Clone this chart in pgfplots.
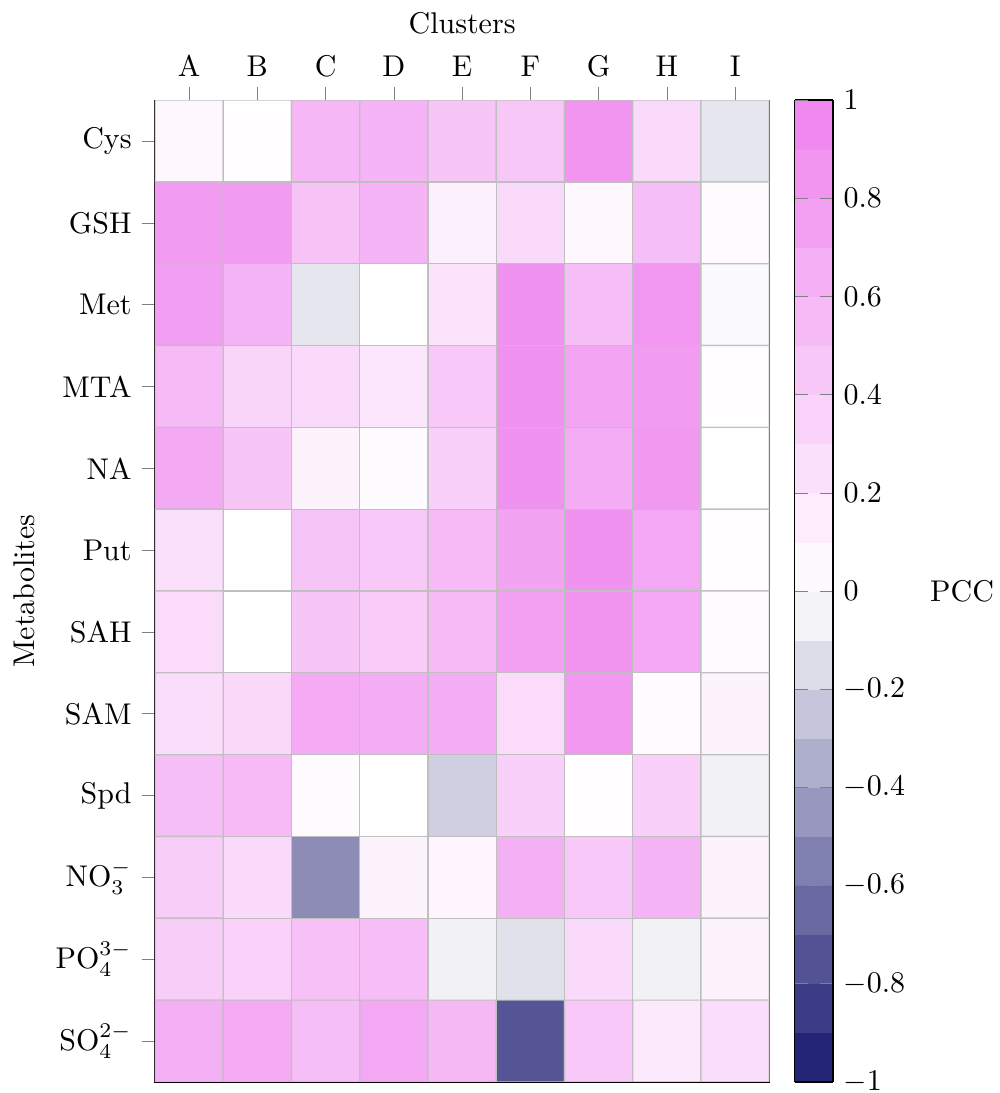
\documentclass[border=0pt]{standalone}
\usepackage{pgfplots}
\pgfplotsset{compat=1.18}
\pgfplotstableread{
x y c
0 0 0.06
1 0 0.02
2 0 0.58
3 0 0.60
4 0 0.46
5 0 0.45
6 0 0.85
7 0 0.30
8 0 -0.11
0 1 0.80
1 1 0.80
2 1 0.48
3 1 0.60
4 1 0.12
5 1 0.30
6 1 0.06
7 1 0.52
8 1 0.04
0 2 0.78
1 2 0.60
2 2 -0.11
3 2 0.01
4 2 0.22
5 2 0.87
6 2 0.53
7 2 0.83
8 2 -0.02
0 3 0.55
1 3 0.34
2 3 0.30
3 3 0.20
4 3 0.43
5 3 0.87
6 3 0.72
7 3 0.80
8 3 0.02
0 4 0.68
1 4 0.46
2 4 0.10
3 4 0.03
4 4 0.38
5 4 0.87
6 4 0.66
7 4 0.82
8 4 0.01
0 5 0.25
1 5 0.01
2 5 0.47
3 5 0.43
4 5 0.55
5 5 0.74
6 5 0.87
7 5 0.70
8 5 0.02
0 6 0.28
1 6 0.01
2 6 0.46
3 6 0.42
4 6 0.55
5 6 0.75
6 6 0.86
7 6 0.70
8 6 0.03
0 7 0.27
1 7 0.31
2 7 0.67
3 7 0.66
4 7 0.66
5 7 0.28
6 7 0.82
7 7 0.04
8 7 0.10
0 8 0.52
1 8 0.55
2 8 0.03
3 8 0.01
4 8 -0.21
5 8 0.38
6 8 0.02
7 8 0.38
8 8 -0.06
0 9 0.40
1 9 0.30
2 9 -0.50
3 9 0.10
4 9 0.08
5 9 0.63
6 9 0.44
7 9 0.60
8 9 0.10
0 10 0.40
1 10 0.37
2 10 0.50
3 10 0.53
4 10 -0.06
5 10 -0.13
6 10 0.30
7 10 -0.06
8 10 0.10
0 11 0.63
1 11 0.67
2 11 0.52
3 11 0.70
4 11 0.57
5 11 -0.74
6 11 0.44
7 11 0.18
8 11 0.27
}\datatable
\begin{document}
\begin{tikzpicture}
\begin{axis}[
  name=main,
  scale only axis, width=205pt, height=327.6pt,
  xmin=-0.5, xmax=8.5, ymin=-0.5, ymax=11.5, y dir=reverse,
  xtick={0,1,2,3,4,5,6,7,8}, xticklabels={A,B,C,D,E,F,G,H,I},
  ytick={0,1,2,3,4,5,6,7,8,9,10,11},
  yticklabels={Cys,GSH,Met,MTA,NA,Put,SAH,SAM,Spd,{$\mathrm{NO_3^-}$},{$\mathrm{PO_4^{3-}}$},{$\mathrm{SO_4^{2-}}$}},
  xtick pos=right, xticklabel pos=right, ytick pos=left,
  tick align=outside,
  xlabel=Clusters, ylabel=Metabolites,
  colormap={pcc}{rgb255=(25,25,112) color=(white) rgb255=(238,130,238)},
  point meta min=-1, point meta max=1,
  colorbar sampled,
  colorbar style={samples=21, width=12.7pt, at={(parent axis.north east)}, anchor=north west, xshift=0pt,
    ylabel=PCC, ylabel style={rotate=-90}, ylabel shift=1.5pt,
    ytick={-1,-0.8,-0.6,-0.4,-0.2,0,0.2,0.4,0.6,0.8,1}},
]
\addplot[matrix plot*, mesh/cols=9, point meta=explicit, draw=gray!50] table[meta=c] {\datatable};
\end{axis}
\pgfresetboundingbox
\path[use as bounding box] ([xshift=-51.7pt,yshift=33.4pt]main.north west) rectangle ([xshift=76.7pt,yshift=-3.7pt]main.south east);
\end{tikzpicture}
\end{document}
